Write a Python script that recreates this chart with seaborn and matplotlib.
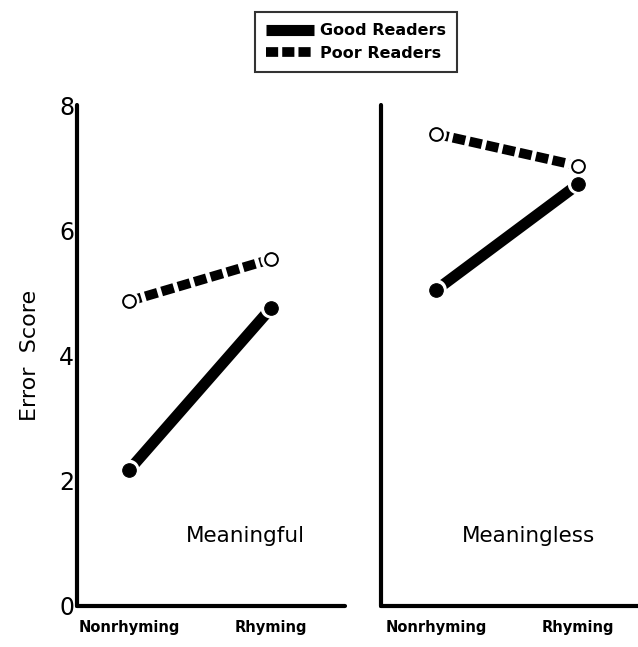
import matplotlib
matplotlib.use("Agg")
import matplotlib.pyplot as plt
import seaborn as sns
import pandas as pd
from matplotlib.lines import Line2D

conditions = ["Nonrhyming", "Rhyming"]
panels = ["Meaningful", "Meaningless"]
good_meaningful = [2.17, 4.76]
poor_meaningful = [4.87, 5.54]
good_meaningless = [5.05, 6.74]
poor_meaningless = [7.54, 7.03]
yticks = [0, 2, 4, 6, 8]

rows = []
for panel, good, poor in [("Meaningful", good_meaningful, poor_meaningful),
                          ("Meaningless", good_meaningless, poor_meaningless)]:
    for c, g, p in zip(conditions, good, poor):
        rows.append(dict(panel=panel, reader="Good Readers", condition=c, score=g))
        rows.append(dict(panel=panel, reader="Poor Readers", condition=c, score=p))
df = pd.DataFrame(rows)

sns.set_style("white")
plt.rcParams["font.family"] = ["DejaVu Sans"]
plt.rcParams.update({"text.color": "black", "axes.labelcolor": "black",
                     "xtick.color": "black", "ytick.color": "black"})

fig = plt.figure(figsize=(6.38, 6.47), dpi=100)
axL = fig.add_axes([0.1207, 0.0634, 0.42, 0.774])
axR = fig.add_axes([0.597, 0.0634, 0.403, 0.774])

dash = (0, (1.3, 0.45))
for ax, panel, xlim in [(axL, "Meaningful", (-0.366, 1.52)), (axR, "Meaningless", (-0.39, 1.42))]:
    sub = df[df.panel == panel]
    good = sub[sub.reader == "Good Readers"]
    poor = sub[sub.reader == "Poor Readers"]
    sns.lineplot(data=good, x="condition", y="score", color="black", lw=8,
                 solid_capstyle="butt", ax=ax, zorder=2)
    sns.lineplot(data=poor, x="condition", y="score", color="black", lw=7,
                 ax=ax, zorder=2)
    pl = ax.lines[-1]
    pl.set_linestyle(dash)
    pl.set_dash_capstyle("butt")
    # white halo so lines stop short of markers
    sns.scatterplot(data=sub, x="condition", y="score", s=230, color="white",
                    edgecolor="none", ax=ax, zorder=3, legend=False)
    sns.scatterplot(data=good, x="condition", y="score", s=95, color="black",
                    edgecolor="black", ax=ax, zorder=4, legend=False)
    sns.scatterplot(data=poor, x="condition", y="score", s=85, color="white",
                    edgecolor="black", linewidth=1.4, ax=ax, zorder=4, legend=False)
    ax.set_xlim(*xlim)
    ax.set_ylim(0, 8)
    ax.set_yticks(yticks)
    ax.set_xlabel("")
    ax.set_ylabel("")
    for s in ["top", "right"]:
        ax.spines[s].set_visible(False)
    for s in ["left", "bottom"]:
        ax.spines[s].set_linewidth(3.0)
        ax.spines[s].set_color("black")
        ax.spines[s].set_capstyle("round")
    ax.tick_params(axis="both", direction="in", length=5, width=1.2, color="black")
    ax.tick_params(axis="x", labelsize=10.5, pad=10)
    for lab in ax.get_xticklabels():
        lab.set_fontweight("bold")
    ax.text(0.63 if panel == "Meaningful" else 0.575, 0.14, panel,
            transform=ax.transAxes, ha="center", va="center", fontsize=15.5)

axL.tick_params(axis="y", labelsize=17, pad=2)
axR.set_yticklabels([])
axL.set_ylabel("Error  Score", fontsize=16, labelpad=14)

handles = [Line2D([0], [0], color="black", lw=8, solid_capstyle="butt"),
           Line2D([0], [0], color="black", lw=7, linestyle=(0, (1.25, 0.42)),
                  dash_capstyle="butt")]
leg = fig.legend(handles, ["Good Readers", "Poor Readers"], loc="center",
                 bbox_to_anchor=(0.558, 0.935), frameon=True, fancybox=False,
                 handlelength=3.0, prop=dict(weight="bold", size=11.5),
                 borderpad=0.7, labelspacing=0.45, handletextpad=0.4,
                 borderaxespad=0)
leg.get_frame().set_edgecolor("black")
leg.get_frame().set_linewidth(1.5)

fig.savefig("out.png", dpi=100, facecolor="white")
